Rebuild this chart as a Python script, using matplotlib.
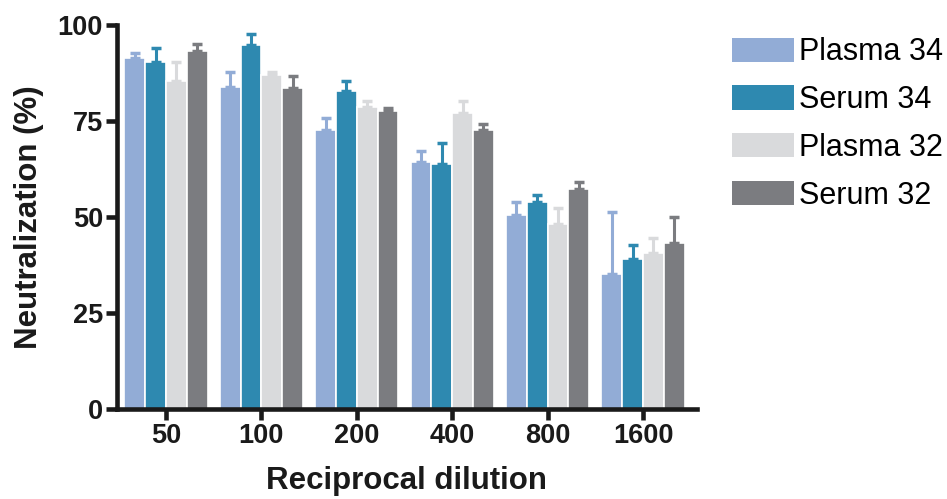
import numpy as np
import matplotlib.pyplot as plt
from matplotlib.patches import Patch

plt.rcParams['font.family'] = ['Liberation Sans', 'DejaVu Sans']

dilutions = ['50', '100', '200', '400', '800', '1600']
series = ['Plasma 34', 'Serum 34', 'Plasma 32', 'Serum 32']
colors = ['#92acd6', '#2e89b0', '#d9dadc', '#7b7c80']

plasma34 = [91.4, 83.8, 72.7, 64.2, 50.5, 35.2]
serum34 = [90.4, 94.8, 82.8, 63.7, 53.8, 39.1]
plasma32 = [85.4, 87.0, 78.6, 77.0, 48.1, 40.6]
serum32 = [93.1, 83.5, 77.5, 72.6, 57.3, 43.1]

plasma34_err = [1.3, 4.0, 3.0, 3.1, 3.4, 16.2]
serum34_err = [3.6, 2.8, 2.5, 5.5, 1.8, 3.5]
plasma32_err = [4.9, 0.7, 1.7, 3.3, 4.2, 3.8]
serum32_err = [1.9, 3.1, 0.8, 1.5, 1.9, 6.9]

vals = [plasma34, serum34, plasma32, serum32]
errs = [plasma34_err, serum34_err, plasma32_err, serum32_err]

fig = plt.figure(figsize=(9.47, 4.99), dpi=100)
ax = fig.add_axes([0.1235, 0.1804, 0.6125, 0.7695])

x = np.arange(len(dilutions))
w = 0.218
for i in range(4):
    pos = x + (i - 1.5) * w
    e = np.array(errs[i])
    ax.bar(pos, vals[i], w, color=colors[i], edgecolor='white', linewidth=1.2,
           yerr=[np.zeros_like(e), e], capsize=3.6,
           error_kw=dict(ecolor=colors[i], elinewidth=2.2, capthick=2.5, zorder=3))

ax.set_ylim(0, 100)
ax.set_xlim(-0.513, 5.565)
ax.set_yticks([0, 25, 50, 75, 100])
ax.set_xticks(x)
ax.set_xticklabels(dilutions)
for s in ['top', 'right']:
    ax.spines[s].set_visible(False)
for s in ['left', 'bottom']:
    ax.spines[s].set_linewidth(3.3)
    ax.spines[s].set_color('#1a1a1a')
ax.tick_params(axis='both', width=3.3, length=8, labelsize=19.5, color='#1a1a1a',
               labelcolor='#1a1a1a', pad=2)
for lab in ax.get_xticklabels() + ax.get_yticklabels():
    lab.set_fontweight('bold')
ax.set_ylabel('Neutralization (%)', fontsize=22.5, fontweight='bold', labelpad=10,
              color='#1a1a1a')
ax.set_xlabel('Reciprocal dilution', fontsize=22.5, fontweight='bold', labelpad=12,
              color='#1a1a1a')

handles = [Patch(facecolor=c, edgecolor='none') for c in colors]
fig.legend(handles, series, loc='upper left', bbox_to_anchor=(0.773, 0.925),
           frameon=False, fontsize=22, handlelength=2.03, handleheight=0.85,
           handletextpad=0.17, labelspacing=0.58, borderaxespad=0, borderpad=0)

plt.savefig('out.png', dpi=100)
